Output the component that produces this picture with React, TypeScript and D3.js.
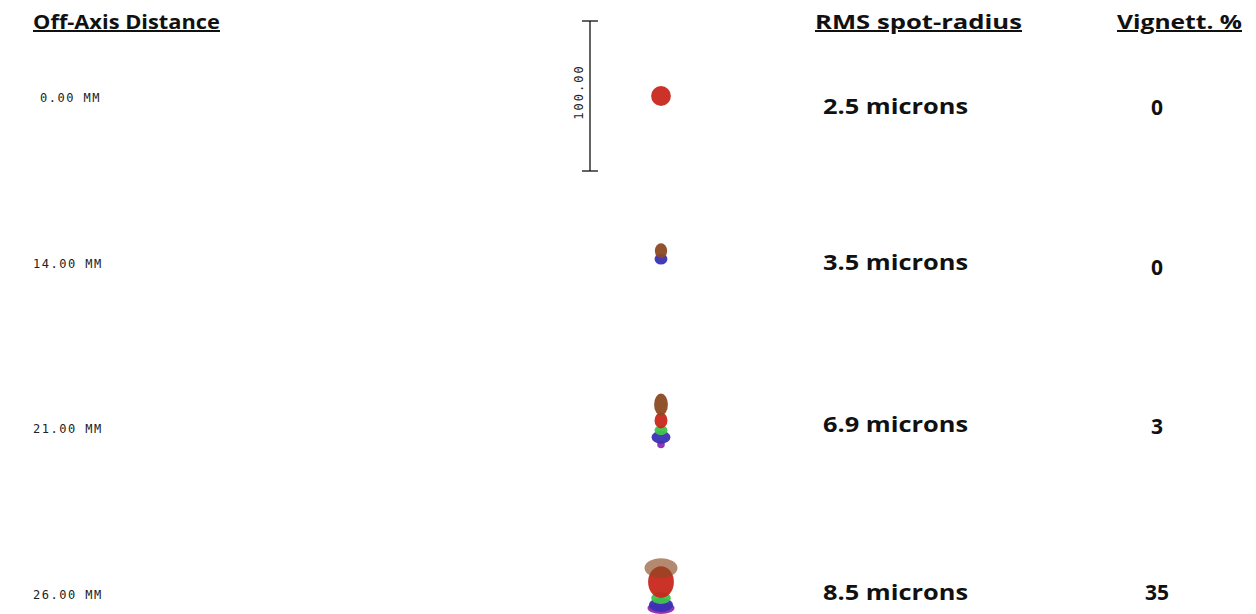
import * as d3 from "d3";
import React from "react";

// field rows and the per-row readouts
const fields = ["0.00 MM", "14.00 MM", "21.00 MM", "26.00 MM"];
const rmsRadius = [2.5, 3.5, 6.9, 8.5];
const vignetting = [0, 0, 3, 35];
const headers = ["Off-Axis Distance", "RMS spot-radius", "Vignett. %"];
const scaleBarMicrons = 100;

// wavelength colours
const waveNames = ["brown", "red", "green", "blue", "purple"];
const waveColors = ["#8a4a22", "#c8281c", "#3fc44c", "#3a30b4", "#8c2cb0"];

// spot blobs per field, in microns relative to the spot centre
// [fieldIndex, wave, dx, dy, rx, ry]
const spotBlobs: [number, string, number, number, number, number][] = [
  [0, "red", 0, 0, 6.6, 6.6],
  [1, "blue", 0, -1.7, 4.3, 3.6],
  [1, "brown", 0, -7.3, 4.1, 4.9],
  [2, "purple", 0, 11.5, 2.5, 2.5],
  [2, "blue", 0, 6.6, 6.3, 4.3],
  [2, "green", 0, 2.0, 4.3, 3.3],
  [2, "red", 0, -4.6, 4.3, 5.3],
  [2, "brown", 0, -15.2, 4.6, 7.3],
  [3, "purple", 0, 10, 9, 4],
  [3, "blue", 0, 8, 8, 4.6],
  [3, "green", 0, 3.3, 6.6, 4],
  [3, "red", 0, -7.3, 8.6, 10.6],
  [3, "brown", 0, -16.6, 11, 6.6],
];

const W = 1256;
const H = 614;

export default function App() {
  const rowY = d3.scalePoint<string>().domain(fields).range([100, 597]);
  const micron = d3.scaleLinear().domain([0, 100]).range([0, 150]);
  const color = d3.scaleOrdinal<string, string>().domain(waveNames).range(waveColors);

  const spotX = 661;
  const spotY = (f: string) => (rowY(f) as number) - 4;
  const barX = 590;
  const barTop = spotY(fields[0]) - micron(scaleBarMicrons / 2);
  const barBot = spotY(fields[0]) + micron(scaleBarMicrons / 2);

  const headFont = "'Open Sans', 'Noto Sans', sans-serif";
  const monoFont = "'DejaVu Sans Mono', monospace";

  // vertical nudges of the readouts against the row line
  const rmsDy = [14, 4, 1, 3];
  const vigDy = [15, 9, 3, 3];

  return (
    <svg
      width={W}
      height={H}
      viewBox={`0 0 ${W} ${H}`}
      style={{ position: "absolute", left: 0, top: 0, background: "#fff" }}
    >
      {/* column headers */}
      <g fontFamily={headFont} fontWeight="bold" fontSize={20} fill="#111" textDecoration="underline">
        <text x={33} y={29} textLength={187} lengthAdjust="spacingAndGlyphs">{headers[0]}</text>
        <text x={815} y={29} textLength={207} lengthAdjust="spacingAndGlyphs">{headers[1]}</text>
        <text x={1117} y={29} textLength={125} lengthAdjust="spacingAndGlyphs">{headers[2]}</text>
      </g>

      {/* field labels */}
      <g fontFamily={monoFont} fontSize={12} fill="#222" letterSpacing={1.5}>
        {fields.map((f, i) => (
          <text key={f} x={i === 0 ? 40 : 33} y={(rowY(f) as number) + 2}>
            {f}
          </text>
        ))}
      </g>

      {/* scale bar */}
      <g stroke="#111" strokeWidth={1.3}>
        <line x1={barX} x2={barX} y1={barTop} y2={barBot} />
        <line x1={barX - 8} x2={barX + 8} y1={barTop} y2={barTop} />
        <line x1={barX - 8} x2={barX + 8} y1={barBot} y2={barBot} />
      </g>
      <text
        transform={`translate(${barX - 7},${spotY(fields[0]) - 4}) rotate(-90)`}
        textAnchor="middle"
        fontFamily={monoFont}
        fontSize={12}
        letterSpacing={2}
        fill="#222"
      >
        {scaleBarMicrons.toFixed(2)}
      </text>

      {/* spot diagrams */}
      <g>
        {spotBlobs.map(([fi, w, dx, dy, rx, ry], i) => (
          <ellipse
            key={i}
            cx={spotX + micron(dx)}
            cy={spotY(fields[fi]) + micron(dy)}
            rx={micron(rx)}
            ry={micron(ry)}
            fill={color(w)}
            fillOpacity={fi === 3 && w === "brown" ? 0.65 : 0.95}
          />
        ))}
      </g>

      {/* rms radius */}
      <g fontFamily={headFont} fontWeight="bold" fontSize={21} fill="#111">
        {rmsRadius.map((r, i) => (
          <text
            key={i}
            x={823}
            y={(rowY(fields[i]) as number) + rmsDy[i]}
            textLength={145}
            lengthAdjust="spacingAndGlyphs"
          >
            {r.toFixed(1)} microns
          </text>
        ))}
      </g>

      {/* vignetting */}
      <g fontFamily={headFont} fontWeight="bold" fontSize={21} fill="#111" textAnchor="middle">
        {vignetting.map((v, i) => (
          <text key={i} x={1157} y={(rowY(fields[i]) as number) + vigDy[i]}>
            {v}
          </text>
        ))}
      </g>
    </svg>
  );
}
